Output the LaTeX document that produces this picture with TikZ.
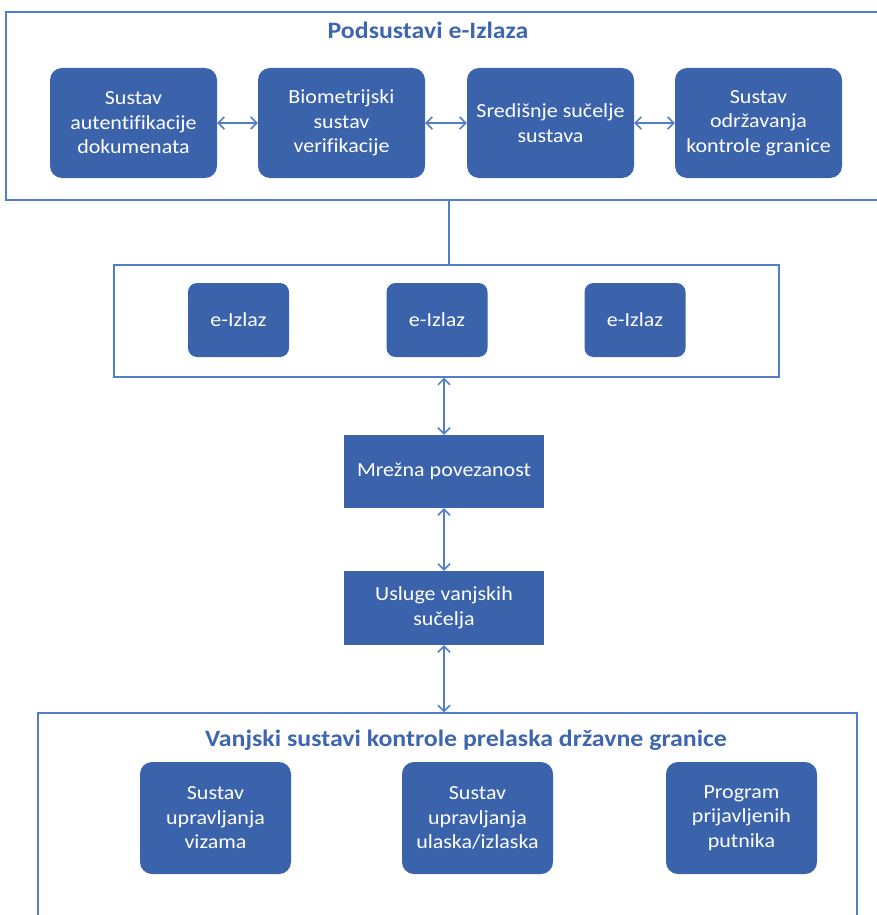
\documentclass[tikz,border=0pt]{standalone}
\usepackage{fontspec}
\setmainfont{Carlito}[FakeStretch=1.1,Ligatures=NoCommon]
\usepackage{tikz}
\usetikzlibrary{calc,shapes,arrows.meta}
\definecolor{boxblue}{RGB}{59,99,172}
\definecolor{lineblue}{RGB}{82,125,204}
\definecolor{titleblue}{RGB}{62,102,176}
\tikzset{
        panel/.style={draw=lineblue, line width=1.5pt, inner sep=0pt},
        unit/.style={fill=boxblue, text=white, align=center, inner sep=2pt,
            font=\fontsize{20}{24.5}\selectfont},
        subsys/.style={unit, rounded corners=12pt, minimum width=167pt, minimum height=110pt},
        exitbox/.style={unit, rounded corners=9pt, minimum width=101pt, minimum height=74pt},
        midbox/.style={unit, minimum width=200pt, minimum height=73pt},
        extbox/.style={unit, rounded corners=12pt, minimum width=151pt, minimum height=112pt},
        heading/.style={text=titleblue, font=\bfseries\fontsize{23.5}{27}\selectfont},
        link/.style={draw=lineblue, line width=1.5pt,
            {Straight Barb[length=6pt,width=12pt]}-{Straight Barb[length=6pt,width=12pt]}}
}

\begin{document}
\begin{tikzpicture}[x=1pt,y=-1pt]
        \clip (0,0) rectangle (877,915);
        \node[panel, minimum width=886pt, minimum height=188pt] (podsus) at (449,106) {};
        \node[heading] (podsustitle) at (428,30) {Podsustavi e-Izlaza};
        \node[subsys] (aut) at (133.5,123) {Sustav\\autentifikacije\\dokumenata};
        \node[subsys] (bio) at (341.5,123) {Biometrijski\\sustav\\verifikacije};
        \node[subsys] (sred) at (550.5,123) {Središnje sučelje\\sustava};
        \node[subsys] (odr) at (758.5,123) {Sustav\\održavanja\\kontrole granice};
        \draw[link] (aut.east) -- (bio.west);
        \draw[link] (bio.east) -- (sred.west);
        \draw[link] (sred.east) -- (odr.west);

        \node[panel, minimum width=665pt, minimum height=112pt] (exits) at (446.5,321) {};
        \foreach \i/\x in {1/238.5,2/437,3/635}
        \node[exitbox] (ex\i) at (\x,320) {e-Izlaz};
        \draw[lineblue, line width=1.5pt] (podsus.south) -- (podsus.south |- exits.north);

        \node[midbox] (mreza) at (444,471.5) {Mrežna povezanost};
        \node[midbox, minimum height=74pt] (usluge) at (444,608) {Usluge vanjskih\\sučelja};
        \draw[link] (mreza.north |- exits.south) -- (mreza.north);
        \draw[link] (mreza.south) -- (usluge.north);

        \node[panel, minimum width=819pt, minimum height=240pt] (vanjski) at (447.5,833) {};
        \draw[link] (usluge.south) -- (usluge.south |- vanjski.north);
        \node[heading] (vanjskititle) at (466,740) {Vanjski sustavi kontrole prelaska državne granice};
        \node[extbox] (vize) at (215.5,818) {Sustav\\upravljanja\\vizama};
        \node[extbox] (ees) at (477.5,818) {Sustav\\upravljanja\\ulaska/izlaska};
        \node[extbox] (putnici) at (741.5,818) {Program\\prijavljenih\\putnika};
\end{tikzpicture}
\end{document}
